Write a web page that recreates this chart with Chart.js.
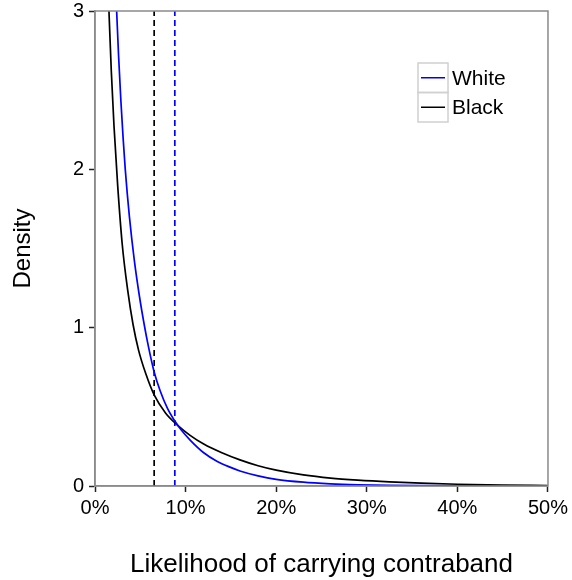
<!DOCTYPE html>
<html>
<head>
<meta charset="utf-8">
<script src="https://cdn.jsdelivr.net/npm/chart.js@4/dist/chart.umd.min.js"></script>
<style>
  html, body { margin: 0; padding: 0; background: #fff; }
  #wrap { width: 572px; height: 580px; }
</style>
</head>
<body>
<div id="wrap"><canvas id="densityChart" width="572" height="580"></canvas></div>
<script>
// Density curves (x in %, y = density)
const whiteX = [2.39, 2.6, 2.86, 3.1, 3.34, 3.8, 4.33, 4.9, 5.43, 5.9, 6.53, 7.2, 8.0, 8.81, 9.5, 10.5, 12, 13.5, 14.9, 16, 18, 20, 23, 26, 29, 32.5, 36, 40, 45, 50];
const whiteY = [3.0, 2.72, 2.43, 2.2, 2.0, 1.7, 1.43, 1.2, 1.02, 0.88, 0.72, 0.6, 0.49, 0.41, 0.355, 0.29, 0.21, 0.155, 0.119, 0.095, 0.064, 0.042, 0.024, 0.014, 0.008, 0.004, 0.002, 0.0008, 0.0002, 0];

const blackX = [1.54, 1.8, 2.1, 2.5, 3.0, 3.6, 4.2, 4.8, 5.6, 6.53, 7.8, 9.1, 10.5, 12, 14, 16, 18, 20, 23, 26, 29, 32.5, 36, 40, 45, 50];
const blackY = [3.0, 2.62, 2.27, 1.9, 1.53, 1.24, 1.02, 0.86, 0.71, 0.575, 0.46, 0.385, 0.32, 0.265, 0.21, 0.165, 0.128, 0.1, 0.07, 0.05, 0.037, 0.026, 0.018, 0.011, 0.006, 0.003];

// Means shown as dashed verticals
const whiteMean = 8.81;
const blackMean = 6.53;

const xTicks = [0, 10, 20, 30, 40, 50];
const yTicks = [0, 1, 2, 3];

const legendLabels = ['White', 'Black'];
const legendColors = ['#0000ff', '#000000'];

const FONT = '"Liberation Sans", Arial, Helvetica, sans-serif';

function toPoints(xs, ys) {
    return xs.map((x, i) => ({ x: x, y: ys[i] }));
}

function vline(x) {
    return [{ x: x, y: 0 }, { x: x, y: yTicks[yTicks.length - 1] }];
}

// frame + legend drawn after the datasets
const framePlugin = {
    id: 'frame',
    afterDraw(chart) {
        const { ctx, chartArea: a } = chart;
        ctx.save();
        ctx.strokeStyle = '#8a8a8a';
        ctx.lineWidth = 1.5;
        ctx.strokeRect(a.left, a.top, a.right - a.left, a.bottom - a.top);

        // legend
        const boxX = 418, boxW = 30, boxH = 29.5, top = 63;
        ctx.font = '21px ' + FONT;
        ctx.textBaseline = 'middle';
        ctx.textAlign = 'left';
        legendLabels.forEach((label, i) => {
            const y0 = top + i * boxH;
            ctx.strokeStyle = '#d0d0d0';
            ctx.lineWidth = 1.5;
            ctx.strokeRect(boxX, y0, boxW, boxH);
            ctx.strokeStyle = legendColors[i];
            ctx.lineWidth = 1.5;
            ctx.beginPath();
            ctx.moveTo(boxX + 3, y0 + boxH / 2);
            ctx.lineTo(boxX + boxW - 3, y0 + boxH / 2);
            ctx.stroke();
            ctx.fillStyle = '#000';
            ctx.fillText(label, boxX + boxW + 4, y0 + boxH / 2 + 1);
        });
        ctx.restore();
    }
};

const ctx = document.getElementById('densityChart').getContext('2d');

new Chart(ctx, {
    type: 'scatter',
    data: {
        datasets: [
            {
                label: 'White',
                data: toPoints(whiteX, whiteY),
                showLine: true,
                borderColor: '#0000ff',
                borderWidth: 1.7,
                pointRadius: 0,
                cubicInterpolationMode: 'monotone'
            },
            {
                label: 'Black',
                data: toPoints(blackX, blackY),
                showLine: true,
                borderColor: '#000000',
                borderWidth: 1.7,
                pointRadius: 0,
                cubicInterpolationMode: 'monotone'
            },
            {
                label: 'White mean',
                data: vline(whiteMean),
                showLine: true,
                borderColor: '#0000ff',
                borderWidth: 1.7,
                borderDash: [6, 4],
                pointRadius: 0
            },
            {
                label: 'Black mean',
                data: vline(blackMean),
                showLine: true,
                borderColor: '#000000',
                borderWidth: 1.7,
                borderDash: [6, 4],
                pointRadius: 0
            }
        ]
    },
    options: {
        responsive: false,
        animation: false,
        devicePixelRatio: 1,
        layout: { padding: { top: 0, right: 23, left: 0, bottom: 0 } },
        plugins: {
            legend: { display: false },
            tooltip: { enabled: false }
        },
        scales: {
            x: {
                type: 'linear',
                min: xTicks[0],
                max: xTicks[xTicks.length - 1],
                afterBuildTicks: (scale) => { scale.ticks = xTicks.map(v => ({ value: v })); },
                afterFit: (scale) => { scale.height = 94; },
                ticks: {
                    color: '#000',
                    padding: 4,
                    font: { family: FONT, size: 20 },
                    maxRotation: 0,
                    callback: (v) => v + '%'
                },
                grid: {
                    display: true,
                    drawOnChartArea: false,
                    drawTicks: true,
                    tickLength: 6,
                    tickColor: '#222',
                    tickWidth: 1.5
                },
                border: { display: true, color: '#8a8a8a', width: 1.5 },
                title: {
                    display: true,
                    text: 'Likelihood of carrying contraband',
                    color: '#000',
                    font: { family: FONT, size: 26 },
                    padding: { top: 0, bottom: 0 }
                }
            },
            y: {
                type: 'linear',
                min: yTicks[0],
                max: yTicks[yTicks.length - 1],
                afterBuildTicks: (scale) => { scale.ticks = yTicks.map(v => ({ value: v })); },
                afterFit: (scale) => {
                    scale.width = 95;
                    scale.paddingTop = 11;
                },
                ticks: {
                    color: '#000',
                    padding: 5,
                    font: { family: FONT, size: 20 }
                },
                grid: {
                    display: true,
                    drawOnChartArea: false,
                    drawTicks: true,
                    tickLength: 6,
                    tickColor: '#222',
                    tickWidth: 1.5
                },
                border: { display: true, color: '#8a8a8a', width: 1.5 },
                title: {
                    display: true,
                    text: 'Density',
                    color: '#000',
                    font: { family: FONT, size: 24 },
                    padding: { top: 9, bottom: 0 }
                }
            }
        }
    },
    plugins: [framePlugin]
});
</script>
</body>
</html>
